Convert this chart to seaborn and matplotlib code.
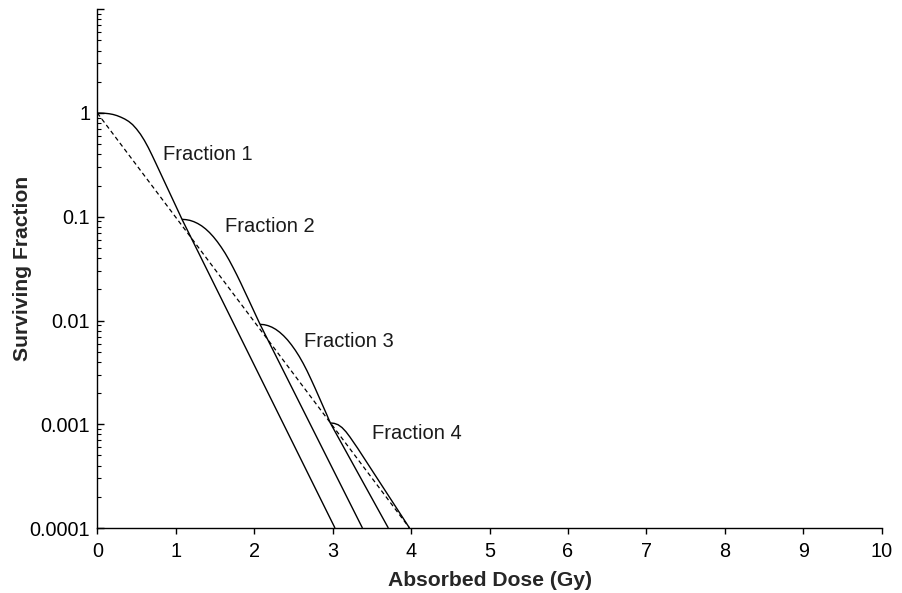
import matplotlib
matplotlib.use("Agg")
import numpy as np
import pandas as pd
import seaborn as sns
import matplotlib.pyplot as plt
from matplotlib.ticker import FixedLocator, FixedFormatter, LogLocator, NullFormatter

# Survival curve for each dose fraction (dose in Gy, surviving fraction)
frac1_dose = [0.0, 0.05, 0.10, 0.15, 0.20, 0.25, 0.30, 0.35, 0.40, 0.45, 0.50, 0.55,
              0.60, 0.65, 0.70, 0.75, 0.80, 0.85, 0.90, 0.95, 1.00, 1.05, 1.08, 3.03]
frac1_sf = [1.0, 0.9977, 0.9931, 0.9840, 0.9683, 0.9441, 0.9120, 0.8750, 0.8299, 0.7727,
            0.7015, 0.6252, 0.5445, 0.4645, 0.3890, 0.3236, 0.2685, 0.2228, 0.1849,
            0.1535, 0.1274, 0.1057, 0.0944, 0.0001]

frac2_dose = [1.08, 1.13, 1.18, 1.23, 1.28, 1.33, 1.38, 1.43, 1.48, 1.53, 1.58, 1.63,
              1.68, 1.73, 1.78, 1.83, 1.88, 1.93, 1.98, 2.03, 2.075, 3.38]
frac2_sf = [0.0944, 0.0938, 0.0923, 0.0897, 0.0861, 0.0817, 0.0764, 0.0705, 0.0641,
            0.0575, 0.0509, 0.0445, 0.0383, 0.0325, 0.0274, 0.0229, 0.0190, 0.0158,
            0.0131, 0.01086, 0.00918, 0.0001]

frac3_dose = [2.075, 2.125, 2.175, 2.225, 2.275, 2.325, 2.375, 2.425, 2.475, 2.525,
              2.575, 2.625, 2.675, 2.725, 2.775, 2.825, 2.875, 2.925, 2.97, 3.71]
frac3_sf = [0.00918, 0.00912, 0.00893, 0.00863, 0.00822, 0.00771, 0.00713, 0.00650,
            0.00583, 0.00516, 0.00450, 0.00386, 0.00326, 0.00271, 0.00224, 0.00184,
            0.00151, 0.00124, 0.00103, 0.0001]

frac4_dose = [2.97, 3.02, 3.07, 3.12, 3.17, 3.22, 3.27, 3.32, 3.98]
frac4_sf = [0.00103, 0.00102, 0.000989, 0.000929, 0.000847, 0.000755, 0.000665,
            0.000586, 0.0001]

# Effective (fractionated) dose-response line
eff_dose = [0.0, 3.98]
eff_sf = [1.0, 0.0001]

fraction_names = ["Fraction 1", "Fraction 2", "Fraction 3", "Fraction 4"]
label_dose = [0.84, 1.63, 2.63, 3.50]
label_sf = [0.394, 0.080, 0.00625, 0.000818]

y_ticks = [1e-4, 1e-3, 1e-2, 1e-1, 1, 10]
y_tick_labels = ["0.0001", "0.001", "0.01", "0.1", "1", ""]
x_ticks = list(range(0, 11))

sns.set_style("ticks")
plt.rcParams["font.family"] = ["Liberation Sans", "DejaVu Sans"]

curves = pd.concat(
    [
        pd.DataFrame({"dose": d, "sf": s, "fraction": n})
        for n, d, s in zip(
            fraction_names,
            [frac1_dose, frac2_dose, frac3_dose, frac4_dose],
            [frac1_sf, frac2_sf, frac3_sf, frac4_sf],
        )
    ],
    ignore_index=True,
)

fig = plt.figure(figsize=(9.03, 5.93), dpi=100)
W, H = 903, 593
left, right, top, bottom = 97.3, 881.7, 9.25, 528.0
ax = fig.add_axes([left / W, 1 - bottom / H, (right - left) / W, (bottom - top) / H])
ax.set_yscale("log")

sns.lineplot(
    data=curves, x="dose", y="sf", units="fraction", estimator=None, sort=False,
    color="black", linewidth=1.0, ax=ax, legend=False,
    solid_joinstyle="round", solid_capstyle="butt",
)
sns.lineplot(
    x=eff_dose, y=eff_sf, color="black", linewidth=0.9,
    linestyle=(0, (3.5, 2.5)), ax=ax, legend=False,
)

for name, d, s in zip(fraction_names, label_dose, label_sf):
    ax.text(d, s, name, ha="left", va="center", fontsize=14.5, color="#1a1a1a")

ax.set_xlim(0, 10)
ax.set_ylim(1e-4, 10)
ax.set_xticks(x_ticks)
ax.set_xticklabels([str(v) for v in x_ticks])
ax.yaxis.set_major_locator(FixedLocator(y_ticks))
ax.yaxis.set_major_formatter(FixedFormatter(y_tick_labels))
ax.yaxis.set_minor_locator(LogLocator(base=10, subs=np.arange(2, 10)))
ax.yaxis.set_minor_formatter(NullFormatter())

ax.tick_params(axis="y", which="major", direction="in", length=5, width=1.0,
               labelsize=14.3, pad=5.0, colors="black")
ax.tick_params(axis="y", which="minor", direction="in", length=3, width=0.8, colors="black")
ax.tick_params(axis="x", which="major", direction="out", length=4, width=1.0,
               labelsize=14.3, pad=6.0, colors="black")
ax.tick_params(axis="x", which="minor", bottom=False)

for side in ("top", "right"):
    ax.spines[side].set_visible(False)
for side in ("left", "bottom"):
    ax.spines[side].set_linewidth(1.0)
    ax.spines[side].set_color("black")

ax.set_xlabel("Absorbed Dose (Gy)", fontsize=15.2, fontweight="bold")
ax.set_ylabel("Surviving Fraction", fontsize=15.2, fontweight="bold")
ax.xaxis.label.set_va("center")
ax.yaxis.label.set_va("center")
ax.xaxis.set_label_coords(0.5, (bottom - 580) / (bottom - top))
ax.yaxis.set_label_coords((23 - left) / (right - left), 0.5)

fig.savefig("out.png", dpi=100, facecolor="white")
